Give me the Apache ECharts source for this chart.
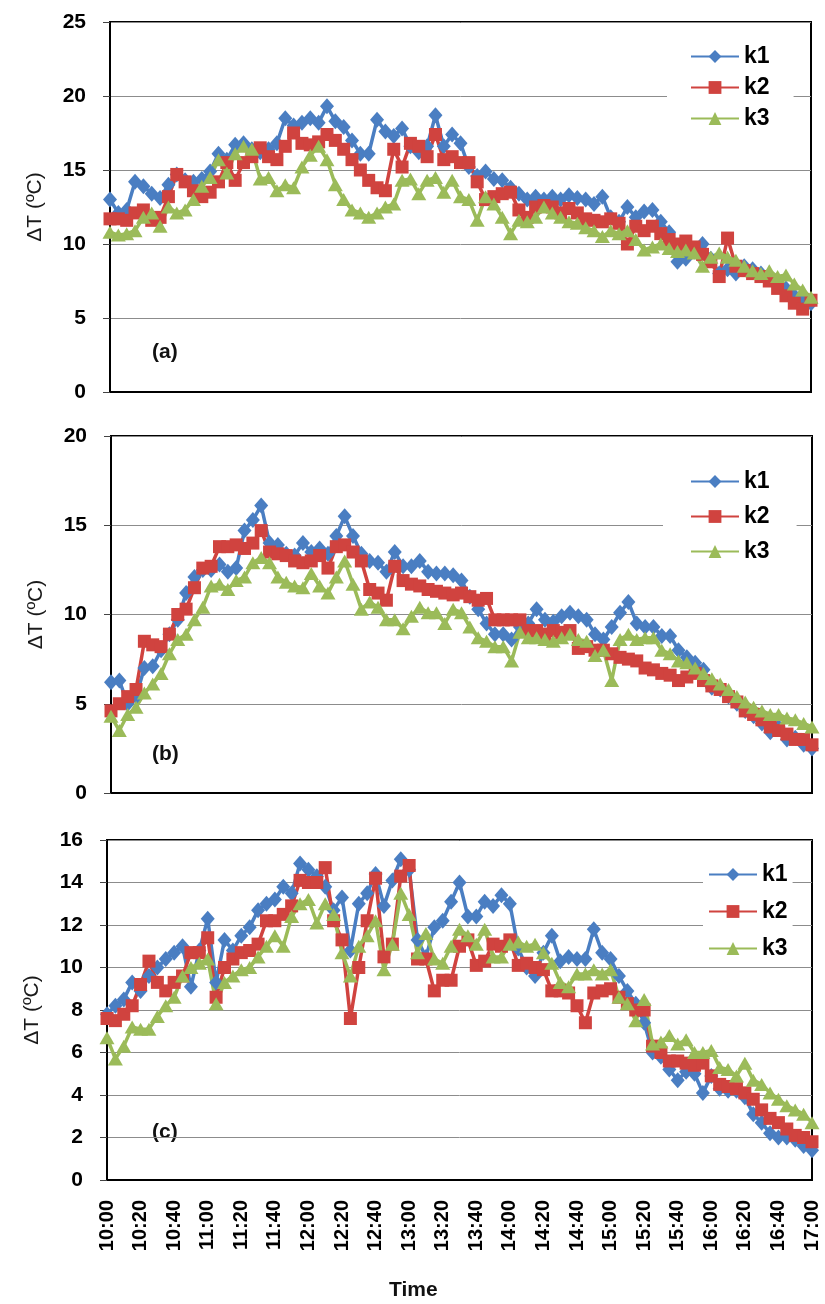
<!DOCTYPE html>
<html>
<head>
<meta charset="utf-8">
<script src="https://cdn.jsdelivr.net/npm/echarts@6/dist/echarts.min.js"></script>
<style>
  html, body { margin: 0; padding: 0; background: #fff; }
  #chart { width: 825px; height: 1304px; }
</style>
</head>
<body>
<div id="chart"></div>
<script>
// 5-minute readings, 10:00 .. 17:00
const times = [];
for (let m = 600; m <= 1020; m += 5) {
  const h = Math.floor(m / 60), mm = m % 60;
  times.push(h + ":" + (mm < 10 ? "0" : "") + mm);
}

// panel (a)
const aK1 = [13.0,12.1,12.3,14.2,13.9,13.4,13.1,14.0,14.7,14.3,14.2,14.4,14.9,16.1,15.7,16.7,16.8,16.4,16.2,16.4,16.8,18.5,18.0,18.2,18.5,18.2,19.3,18.3,17.9,17.0,16.1,16.1,18.4,17.6,17.3,17.8,16.6,16.2,16.6,18.7,16.6,17.4,16.8,15.2,14.6,14.9,14.4,14.3,13.8,13.4,13.0,13.2,13.0,13.2,13.0,13.3,13.1,13.0,12.7,13.2,11.8,11.5,12.5,11.8,12.2,12.3,11.5,10.8,8.8,9.0,9.5,10.0,9.0,8.0,8.3,8.0,8.5,8.3,8.0,7.8,7.5,7.0,6.5,6.2,6.0];
const aK2 = [11.7,11.7,11.6,12.1,12.3,11.6,11.8,13.2,14.7,14.2,13.6,13.2,13.5,14.2,15.5,14.3,15.5,15.9,16.5,15.9,15.7,16.6,17.5,16.8,16.7,16.9,17.4,17.0,16.4,15.7,15.0,14.3,13.8,13.6,16.4,15.2,16.8,16.6,15.9,17.4,15.7,15.9,15.5,15.5,14.2,13.0,13.2,13.4,13.5,12.3,11.8,12.5,12.6,12.5,12.1,12.4,12.1,11.7,11.6,11.5,11.7,11.4,10.0,11.2,10.9,11.2,10.7,10.3,10.0,10.2,9.8,9.3,8.8,7.8,10.4,8.5,8.2,8.0,7.8,7.5,7.0,6.5,6.0,5.6,6.2];
const aK3 = [10.8,10.6,10.7,10.9,11.8,12.1,11.2,12.5,12.1,12.3,13.0,13.9,14.5,15.7,14.8,16.1,16.6,16.4,14.4,14.5,13.6,14.0,13.8,15.2,16.0,16.6,15.7,14.0,13.0,12.3,12.1,11.8,12.1,12.5,12.7,14.3,14.4,13.4,14.3,14.5,13.5,14.3,13.2,13.0,11.6,13.2,12.7,11.8,10.7,11.6,11.5,11.8,12.5,12.1,11.8,11.5,11.4,11.1,10.9,10.5,10.9,10.7,10.9,10.3,9.6,9.8,10.0,9.7,9.5,9.6,9.4,8.5,9.1,9.4,9.1,8.9,8.5,8.2,8.0,8.2,7.8,7.9,7.3,6.9,6.4];

// panel (b)
const bK1 = [6.2,6.3,5.0,5.4,7.0,7.1,8.0,8.9,9.7,11.2,12.1,12.5,12.5,12.8,12.4,12.6,14.7,15.3,16.1,14.0,13.9,13.4,13.3,14.0,13.5,13.7,13.4,14.4,15.5,14.4,13.4,13.0,12.9,12.4,13.5,12.7,12.7,13.0,12.4,12.3,12.3,12.2,11.9,11.0,10.3,9.5,8.9,8.9,8.6,9.3,9.5,10.3,9.7,9.6,9.9,10.1,9.9,9.7,8.9,8.6,9.3,10.1,10.7,9.5,9.3,9.3,8.8,8.8,8.0,7.6,7.3,6.9,5.9,5.8,5.4,5.0,4.6,4.3,3.9,3.4,3.7,3.0,3.1,2.7,2.5];
const bK2 = [4.6,5.0,5.4,5.8,8.5,8.3,8.2,8.9,10.0,10.3,11.5,12.6,12.7,13.8,13.8,13.9,13.7,14.0,14.7,13.5,13.4,13.3,13.0,12.9,13.0,13.3,12.6,13.8,13.9,13.5,13.0,11.4,11.2,10.8,12.7,11.9,11.7,11.6,11.4,11.3,11.2,11.1,11.2,11.0,10.8,10.9,9.7,9.7,9.7,9.7,9.1,9.1,8.9,9.1,9.0,9.1,8.1,8.2,8.0,8.0,7.8,7.6,7.5,7.4,7.0,6.9,6.7,6.6,6.3,6.5,6.7,6.3,6.0,5.8,5.4,5.1,4.6,4.4,4.1,3.7,3.5,3.3,3.0,3.0,2.7];
const bK3 = [4.3,3.5,4.4,4.8,5.6,6.1,6.7,7.8,8.6,8.9,9.7,10.4,11.6,11.7,11.4,11.9,12.1,12.9,13.2,12.9,12.1,11.8,11.6,11.5,12.3,11.6,11.2,12.1,13.0,11.7,10.3,10.7,10.4,9.7,9.7,9.2,9.9,10.4,10.1,10.1,9.5,10.3,10.1,9.3,8.7,8.5,8.2,8.2,7.4,9.0,8.7,8.7,8.6,8.5,8.7,8.9,8.6,8.5,7.7,8.0,6.3,8.6,8.9,8.6,8.7,8.7,8.0,7.8,7.4,7.3,7.0,6.7,6.4,6.1,5.8,5.4,5.1,4.8,4.6,4.4,4.4,4.2,4.1,3.9,3.7];

// panel (c)
const cK1 = [7.8,8.2,8.5,9.3,8.9,9.6,10.0,10.4,10.7,11.0,9.1,10.8,12.3,9.3,11.3,10.8,11.5,11.9,12.7,13.0,13.2,13.8,13.5,14.9,14.6,14.3,13.8,12.7,13.3,10.8,13.0,13.5,14.4,12.9,14.1,15.1,14.6,11.3,10.5,11.9,12.2,13.1,14.0,12.4,12.4,13.1,12.9,13.4,13.0,10.9,10.0,9.6,10.7,11.5,10.3,10.5,10.4,10.4,11.8,10.7,10.4,9.6,8.9,8.3,7.4,6.0,5.8,5.2,4.7,5.1,5.0,4.1,4.9,4.3,4.2,4.2,3.9,3.1,2.7,2.2,2.0,2.0,1.9,1.6,1.4];
const cK2 = [7.6,7.5,7.8,8.2,9.2,10.3,9.3,8.9,9.3,9.6,10.7,10.7,11.4,8.6,10.0,10.4,10.7,10.8,11.1,12.2,12.2,12.5,12.9,14.1,14.0,14.0,14.7,12.2,11.3,7.6,10.0,12.2,14.2,10.5,11.1,14.3,14.8,10.4,10.4,8.9,9.4,9.4,11.0,11.3,10.1,10.3,11.1,11.0,11.3,10.1,10.2,10.0,9.9,8.9,8.9,8.8,8.2,7.4,8.8,8.9,9.0,8.6,8.3,8.0,8.0,6.3,6.0,5.6,5.6,5.5,5.4,5.5,4.9,4.5,4.4,4.3,4.1,3.8,3.3,2.9,2.7,2.4,2.1,2.0,1.8];
const cK3 = [6.7,5.7,6.3,7.2,7.1,7.1,7.7,8.2,8.6,9.6,10.0,10.2,10.4,8.3,9.3,9.6,9.9,10.0,10.5,11.0,11.5,11.0,12.4,13.0,13.2,12.1,13.0,12.5,10.7,9.6,11.0,11.5,12.2,9.9,11.1,13.5,12.5,10.7,11.6,10.4,10.2,11.0,11.8,11.5,11.1,11.8,10.5,10.5,11.1,11.2,11.0,11.1,10.7,10.2,9.3,9.1,9.7,9.7,9.9,9.7,9.9,8.6,8.3,7.5,8.5,6.4,6.5,6.8,6.4,6.6,6.0,6.0,6.1,5.3,5.2,4.9,5.5,4.7,4.5,4.1,3.8,3.5,3.3,3.1,2.7];

const yMax = [25, 20, 16];
const yStep = [5, 5, 2];
const panelTags = ["(a)", "(b)", "(c)"];

const FONT = "Liberation Sans, Arial, sans-serif";
const colK1 = "#4A7EC2", colK2 = "#D0433F", colK3 = "#9BBB59";

const grids = [
  { left: 110, top: 22, width: 701, height: 370 },
  { left: 111, top: 436, width: 701, height: 357 },
  { left: 107, top: 840, width: 705, height: 340 },
];

const chart = echarts.init(document.getElementById("chart"), null, { renderer: "canvas" });

const xAxes = grids.map((g, k) => ({
  type: "category",
  gridIndex: k,
  data: times,
  boundaryGap: false,
  axisLine: { lineStyle: { color: "#000", width: 2 } },
  axisTick: { show: false },
  axisLabel: {
    show: k === 2,
    interval: 3,
    rotate: 90,
    margin: 20,
    color: "#000",
    fontWeight: "bold",
    fontSize: 20,
    fontFamily: FONT,
  },
  splitLine: { show: false },
}));

const yAxes = grids.map((g, k) => ({
  type: "value",
  gridIndex: k,
  min: 0,
  max: yMax[k],
  interval: yStep[k],
  name: "ΔT (ºC)",
  nameLocation: "middle",
  nameGap: 64,
  nameTextStyle: { color: "#1a1a1a", fontSize: 21, fontFamily: FONT },
  axisLine: { show: true, lineStyle: { color: "#000", width: 2 } },
  axisTick: { show: true, inside: false, length: 7, lineStyle: { color: "#444", width: 1 } },
  axisLabel: { margin: 24, color: "#000", fontWeight: "bold", fontSize: 21, fontFamily: FONT },
  splitLine: { lineStyle: { color: "#8c8c8c", width: 1 } },
}));

function mk(name, k, data, color, symbol, size) {
  return {
    name, type: "line", xAxisIndex: k, yAxisIndex: k, data,
    symbol, symbolSize: size, showAllSymbol: true,
    lineStyle: { color, width: 3.5 },
    itemStyle: { color },
    animation: false,
  };
}

const series = [
  mk("k1", 0, aK1, colK1, "diamond", [14, 16]),
  mk("k2", 0, aK2, colK2, "rect", 13),
  mk("k3", 0, aK3, colK3, "triangle", [15, 13]),
  mk("k1", 1, bK1, colK1, "diamond", [14, 16]),
  mk("k2", 1, bK2, colK2, "rect", 13),
  mk("k3", 1, bK3, colK3, "triangle", [15, 13]),
  mk("k1", 2, cK1, colK1, "diamond", [14, 16]),
  mk("k2", 2, cK2, colK2, "rect", 13),
  mk("k3", 2, cK3, colK3, "triangle", [15, 13]),
];

const legendBase = {
  orient: "vertical",
  data: ["k1", "k2", "k3"],
  itemWidth: 48,
  itemHeight: 16,
  backgroundColor: "#fff",
  selectedMode: false,
  textStyle: { color: "#000", fontSize: 23, fontWeight: "bold", fontFamily: FONT },
};

const legends = [
  Object.assign({}, legendBase, { left: 667, top: 43, itemGap: 8, padding: [2, 24, 2, 23] }),
  Object.assign({}, legendBase, { left: 663, top: 468, itemGap: 12, padding: [2, 27, 2, 27] }),
  Object.assign({}, legendBase, { left: 703, top: 861, itemGap: 14, padding: [2, 5, 2, 5] }),
];

const tagPos = [[152, 342], [152, 744], [152, 1122]];
const graphics = panelTags.map((t, k) => ({
  type: "text",
  left: tagPos[k][0],
  top: tagPos[k][1],
  style: { text: t, font: "bold 21px " + FONT, fill: "#111" },
}));
graphics.push({
  type: "text",
  left: 389,
  top: 1280,
  style: { text: "Time", font: "bold 21px " + FONT, fill: "#111" },
});

chart.setOption({
  backgroundColor: "#fff",
  animation: false,
  grid: grids.map(g => Object.assign({ show: true, borderColor: "#000", borderWidth: 2, backgroundColor: "transparent" }, g)),
  xAxis: xAxes,
  yAxis: yAxes,
  legend: legends,
  series,
  graphic: graphics,
});
</script>
</body>
</html>
